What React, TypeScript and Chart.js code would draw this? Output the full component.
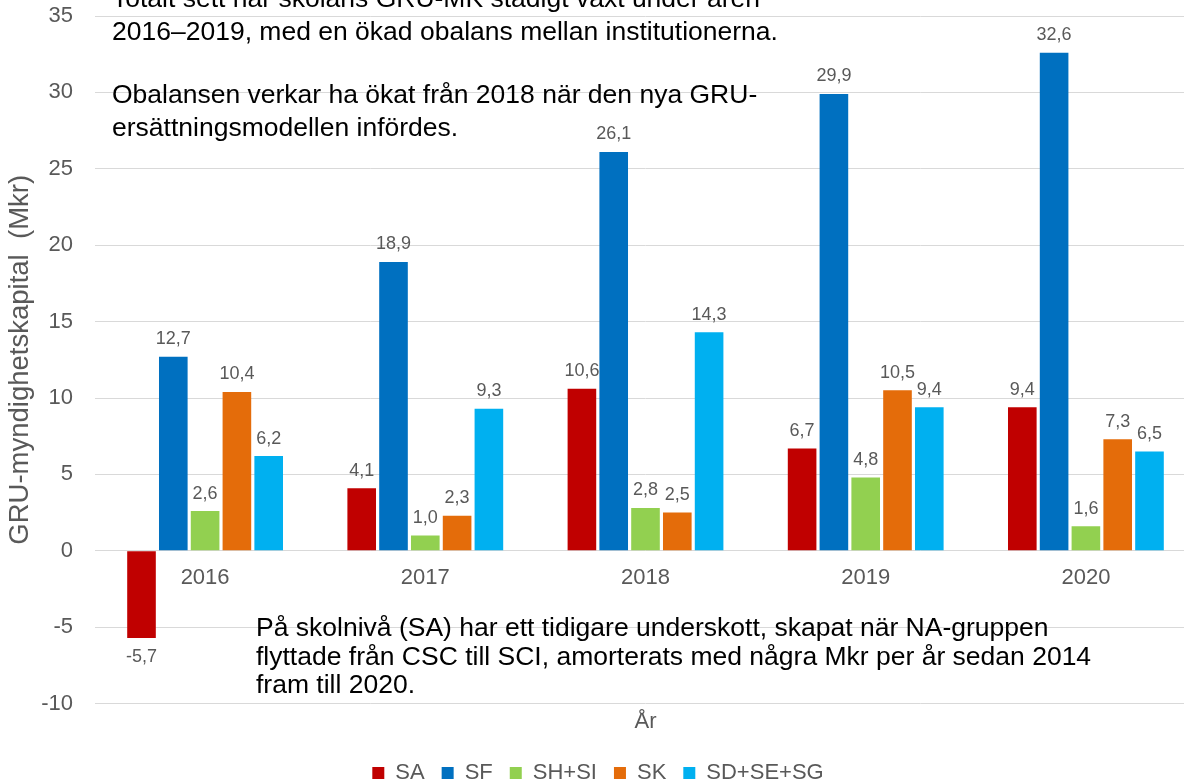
import React, { useEffect, useRef } from "react";
import { Chart, registerables } from "chart.js";

Chart.register(...registerables);

const categories = ["2016", "2017", "2018", "2019", "2020"];
const seriesNames = ["SA", "SF", "SH+SI", "SK", "SD+SE+SG"];
const saValues = [-5.7, 4.1, 10.6, 6.7, 9.4];
const sfValues = [12.7, 18.9, 26.1, 29.9, 32.6];
const shsiValues = [2.6, 1.0, 2.8, 4.8, 1.6];
const skValues = [10.4, 2.3, 2.5, 10.5, 7.3];
const sdValues = [6.2, 9.3, 14.3, 9.4, 6.5];
const seriesColors = ["#C00000", "#0070C0", "#92D050", "#E46C0A", "#00B0F0"];
const yMin = -10;
const yMax = 35;
const yStep = 5;
const yTitle = "GRU-myndighetskapital  (Mkr)";
const xTitle = "År";
const topNote = [
  "Totalt sett har skolans GRU-MK stadigt växt under åren",
  "2016–2019, med en ökad obalans mellan institutionerna.",
  "",
  "Obalansen verkar ha ökat från 2018 när den nya GRU-",
  "ersättningsmodellen infördes.",
];
const bottomNote = [
  "På skolnivå (SA) har ett tidigare underskott, skapat när NA-gruppen",
  "flyttade från CSC till SCI, amorterats med några Mkr per år sedan 2014",
  "fram till 2020.",
];

const FONT = "'Liberation Sans', Arial, sans-serif";
const GRAY = "#595959";

const fmt = (v: number) => v.toFixed(1).replace(".", ",");

const overlayPlugin = {
  id: "overlay",
  afterDatasetsDraw(chart: any) {
    const ctx = chart.ctx;
    const xs = chart.scales.x;
    const ys = chart.scales.y;
    ctx.save();
    // data labels
    ctx.font = `18px ${FONT}`;
    ctx.fillStyle = GRAY;
    ctx.textAlign = "center";
    ctx.textBaseline = "middle";
    chart.data.datasets.forEach((ds: any, di: number) => {
      const meta = chart.getDatasetMeta(di);
      meta.data.forEach((bar: any, i: number) => {
        const v = ds.data[i];
        const y = v >= 0 ? bar.y - 17.5 : bar.y + 19.5;
        ctx.fillText(fmt(v), bar.x, y);
      });
    });
    // category labels under zero line
    const zeroY = ys.getPixelForValue(0);
    ctx.font = `22px ${FONT}`;
    categories.forEach((c, i) => {
      ctx.fillText(c, xs.getPixelForTick(i), zeroY + 27);
    });
    // annotations
    ctx.fillStyle = "#000000";
    ctx.textAlign = "left";
    ctx.textBaseline = "alphabetic";
    ctx.font = `26.5px ${FONT}`;
    const topBaselines = [7, 40, 72, 103, 136];
    topNote.forEach((t, i) => {
      if (t) ctx.fillText(t, 112, topBaselines[i]);
    });
    const botBaselines = [636, 665, 693];
    bottomNote.forEach((t, i) => ctx.fillText(t, 256, botBaselines[i]));
    ctx.restore();
  },
};

export default function App() {
  const ref = useRef<HTMLCanvasElement | null>(null);
  useEffect(() => {
    if (!ref.current) return;
    const valueSets = [saValues, sfValues, shsiValues, skValues, sdValues];
    const chart = new Chart(ref.current, {
      type: "bar",
      data: {
        labels: categories,
        datasets: seriesNames.map((name, i) => ({
          label: name,
          data: valueSets[i],
          backgroundColor: seriesColors[i],
          borderWidth: 0,
          categoryPercentage: 0.722,
          barPercentage: 0.9,
        })),
      },
      options: {
        responsive: false,
        animation: false,
        devicePixelRatio: 1,
        layout: { padding: { left: 0, right: 11, top: 16, bottom: -15 } },
        plugins: {
          tooltip: { enabled: false },
          legend: {
            position: "bottom",
            labels: {
              font: { family: FONT, size: 22 },
              color: GRAY,
              boxWidth: 12,
              boxHeight: 12,
              padding: 17,
            },
          },
        },
        scales: {
          x: {
            grid: { display: false, drawTicks: false },
            border: { display: false },
            ticks: { display: false },
            title: {
              display: true,
              text: xTitle,
              color: GRAY,
              font: { family: FONT, size: 22 },
              padding: { top: 5, bottom: 10 },
            },
          },
          y: {
            min: yMin,
            max: yMax,
            afterFit: (s: any) => {
              s.width = 95;
              s.paddingTop = 0;
              s.paddingBottom = 0;
            },
            ticks: {
              stepSize: yStep,
              color: GRAY,
              font: { family: FONT, size: 22 },
              padding: 22,
            },
            grid: { color: "#D9D9D9", drawTicks: false, lineWidth: 1 },
            border: { display: false },
            title: {
              display: true,
              text: yTitle,
              color: GRAY,
              font: { family: FONT, size: 27.5 },
              padding: { top: 4, bottom: 0 },
            },
          },
        },
      },
      plugins: [overlayPlugin],
    });
    return () => chart.destroy();
  }, []);
  return (
    <div
      style={{
        position: "fixed",
        left: 0,
        top: 0,
        width: 1184,
        height: 779,
        overflow: "hidden",
        background: "#ffffff",
      }}
    >
      <canvas ref={ref} width={1207} height={779} style={{ display: "block" }} />
    </div>
  );
}
